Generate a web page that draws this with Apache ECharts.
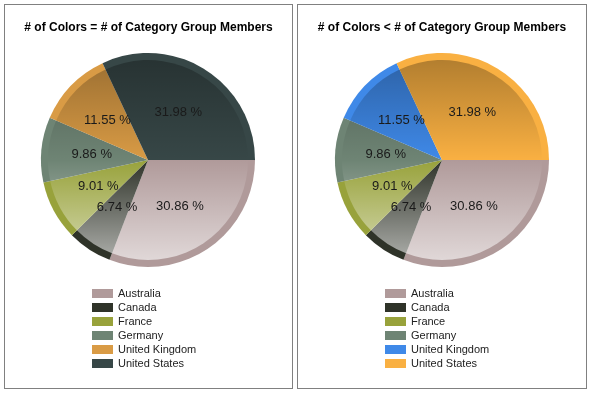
<!DOCTYPE html>
<html><head><meta charset="utf-8">
<script src="https://cdn.jsdelivr.net/npm/echarts@6/dist/echarts.min.js"></script>
<style>
html,body{margin:0;padding:0;background:#fff;width:591px;height:393px;overflow:hidden;}
.panel{position:absolute;top:4px;height:383px;border:1px solid #808080;background:#fff;}
.chart{position:absolute;left:0;top:0;width:100%;height:100%;}
</style></head><body>
<div class="panel" style="left:4px;width:287px;"><div id="c1" class="chart"></div></div>
<div class="panel" style="left:297px;width:288px;"><div id="c2" class="chart"></div></div>
<script>
const categories = ['Australia','Canada','France','Germany','United Kingdom','United States'];
const shares = [30.86, 6.74, 9.01, 9.86, 11.55, 31.98];
const titles = ['# of Colors = # of Category Group Members', '# of Colors < # of Category Group Members'];
const colorsLeft = ['#b09a9a','#2f3329','#98a23b','#6e8474','#d99b45','#374747'];
const colorsRight = ['#b09a9a','#2f3329','#98a23b','#6e8474','#3f89e8','#f9b042'];

const FONT = "Arial, 'Liberation Sans', sans-serif";

function build(el, title, colors, cx) {
  const chart = echarts.init(document.getElementById(el), null, {renderer:'canvas'});
  const cy = 155, R = 107, Ri = 100;
  const data = categories.map((n,i)=>({name:n, value:shares[i]}));
  const shade = {
    type:'linear', global:true, x:0, y:cy-R, x2:0, y2:cy+R,
    colorStops:[
      {offset:0, color:'rgba(0,0,0,0.30)'},
      {offset:0.5, color:'rgba(0,0,0,0)'},
      {offset:0.5, color:'rgba(255,255,255,0)'},
      {offset:1, color:'rgba(255,255,255,0.65)'}
    ]
  };
  chart.setOption({
    animation:false,
    color: colors,
    title:{text:title, left:'center', top:12,
      textStyle:{fontFamily:FONT, fontSize:12, fontWeight:'bold', color:'#000'}},
    legend:{orient:'vertical', left:87, top:283, height:95, padding:0,
      itemWidth:21, itemHeight:9, itemGap:3,
      icon:'rect', selectedMode:false,
      data: categories.map((n,i)=>({name:n, itemStyle:{color:colors[i]}})),
      textStyle:{fontFamily:FONT, fontSize:11, lineHeight:11, color:'#222'}},
    series:[
      {type:'pie', center:[cx,cy], radius:[0,R], startAngle:0, clockwise:true, silent:true,
       label:{show:false}, labelLine:{show:false}, itemStyle:{borderWidth:0},
       data: data.map((d,i)=>({...d, itemStyle:{color:colors[i]}}))},
      {type:'pie', center:[cx,cy], radius:[0,Ri], startAngle:0, clockwise:true, silent:true,
       label:{show:false}, labelLine:{show:false}, legendHoverLink:false,
       data: data.map((d,i)=>({...d, itemStyle:{color:shade, borderWidth:0}}))},
      {type:'pie', center:[cx,cy], radius:[0,R], startAngle:0, clockwise:true, silent:true, z:5,
       labelLine:{show:false}, avoidLabelOverlap:false,
       label:{show:true, position:'inside', fontFamily:FONT, fontSize:13, color:'#1a1a1a',
         formatter:p=>p.value.toFixed(2)+' %'},
       data: data.map(d=>({...d, itemStyle:{color:'rgba(0,0,0,0)', borderWidth:0}}))}
    ]
  });
}
build('c1', titles[0], colorsLeft, 143);
build('c2', titles[1], colorsRight, 144);
</script></body></html>
